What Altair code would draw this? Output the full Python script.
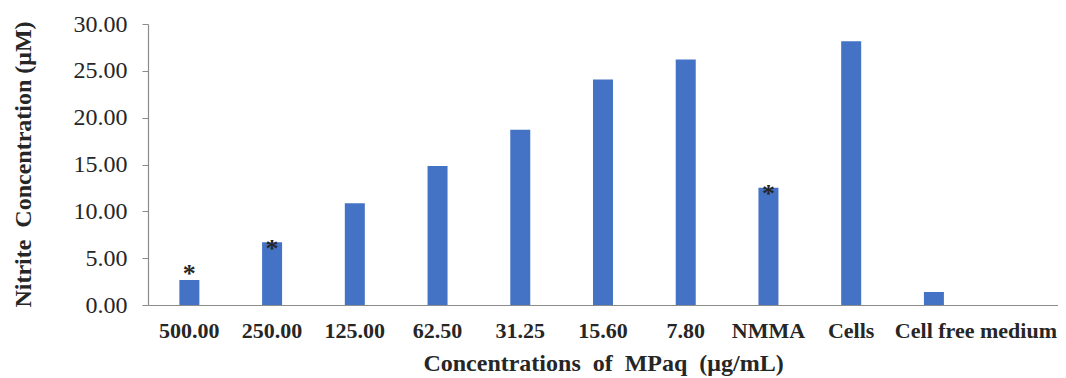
import altair as alt
import pandas as pd

categories = ["500.00", "250.00", "125.00", "62.50", "31.25", "15.60", "7.80",
              "NMMA", "Cells", "Cell free medium"]
nitrite = [2.67, 6.69, 10.87, 14.84, 18.70, 24.07, 26.20, 12.53, 28.15, 1.39]
star_categories = ["500.00", "250.00", "NMMA"]
star_levels = [3.95, 6.6, 12.5]
y_ticks = [0, 5, 10, 15, 20, 25, 30]
x_domain = categories + [" "]

bars_df = pd.DataFrame({"cat": categories, "val": nitrite})
stars_df = pd.DataFrame({"cat": star_categories, "val": star_levels,
                         "sym": ["*"] * len(star_categories)})

FONT = "Liberation Serif"
AXIS_GRAY = "#8c8c8c"
TEXT = "#262626"
GAP = " \u00a0"

x_enc = alt.X(
    "cat:N",
    scale=alt.Scale(domain=x_domain, paddingInner=0, paddingOuter=0),
    axis=alt.Axis(
        title="Concentrations" + GAP + "of" + GAP + "MPaq" + GAP + "(μg/mL)",
        labelAngle=0,
        ticks=False,
        domainColor=AXIS_GRAY,
        domainWidth=1.2,
        labelFont=FONT,
        labelFontSize=22,
        labelFontWeight="bold",
        labelColor=TEXT,
        labelPadding=15,
        labelOffset={"condition": {"test": "datum.value === 'Cell free medium'", "value": 42}, "value": 0},
        titleFont=FONT,
        titleFontSize=24,
        titleFontWeight="bold",
        titleColor=TEXT,
        titleY=58,
        titleBaseline="middle",
    ),
)

y_enc = alt.Y(
    "val:Q",
    scale=alt.Scale(domain=[0, 30], nice=False),
    axis=alt.Axis(
        title="Nitrite" + GAP + "Concentration (μM)",
        values=y_ticks,
        format=".2f",
        grid=False,
        domainColor=AXIS_GRAY,
        domainWidth=1.2,
        tickColor=AXIS_GRAY,
        tickSize=6,
        labelFont=FONT,
        labelFontSize=24,
        labelColor=TEXT,
        labelPadding=15,
        titleFont=FONT,
        titleFontSize=24,
        titleFontWeight="bold",
        titleColor=TEXT,
        titleAngle=-90,
        titleX=-125,
        titleY=140,
        titleAlign="center",
        titleBaseline="middle",
    ),
)

bars = alt.Chart(bars_df).mark_bar(size=20, color="#4472C4").encode(x=x_enc, y=y_enc)

stars = alt.Chart(stars_df).mark_text(
    font=FONT, fontSize=26, fontWeight="bold", color=TEXT, baseline="middle", dy=6
).encode(
    x=alt.X("cat:N", scale=alt.Scale(domain=x_domain)),
    y=alt.Y("val:Q"),
    text="sym:N",
)

chart = (
    alt.layer(bars, stars)
    .properties(
        width=910,
        height=281,
        autosize=alt.AutoSizeParams(type="none"),
        padding={"left": 140, "top": 16, "right": 0, "bottom": 73},
    )
    .configure_view(stroke=None)
)

chart.save("out.html", embed_options={"renderer": "svg", "actions": False})
